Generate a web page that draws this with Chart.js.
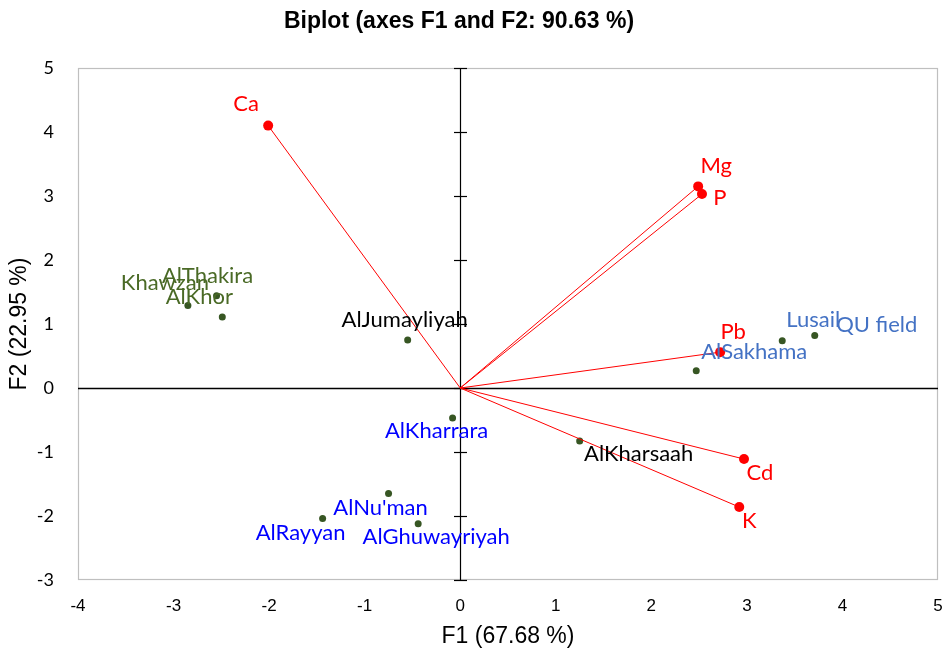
<!DOCTYPE html>
<html>
<head>
<meta charset="utf-8">
<script src="https://cdn.jsdelivr.net/npm/chart.js@4.4.0/dist/chart.umd.min.js"></script>
<style>
html,body{margin:0;padding:0;background:#fff;}
#wrap{width:943px;height:656px;position:relative;}
</style>
</head>
<body>
<div id="wrap"><canvas id="c"></canvas></div>
<script>
// ---- Data ----
const obsNames = ["Khawzan","AlThakira","AlKhor","AlJumayliyah","AlSakhama","Lusail","QU field","AlKharrara","AlKharsaah","AlNu'man","AlRayyan","AlGhuwayriyah"];
const obsF1 = [-2.85,-2.55,-2.49,-0.55,2.47,3.37,3.71,-0.08,1.25,-0.75,-1.44,-0.44];
const obsF2 = [1.29,1.44,1.11,0.75,0.27,0.74,0.82,-0.47,-0.83,-1.65,-2.04,-2.12];

const varNames = ["Ca","Mg","P","Pb","Cd","K"];
const varF1 = [-2.01,2.49,2.53,2.72,2.97,2.92];
const varF2 = [4.10,3.15,3.03,0.56,-1.11,-1.86];

const xTicks = [-4,-3,-2,-1,0,1,2,3,4,5];
const yTicks = [-3,-2,-1,0,1,2,3,4,5];

const titleText = "Biplot (axes F1 and F2: 90.63 %)";
const xTitle = "F1 (67.68 %)";
const yTitle = "F2 (22.95 %)";

// ---- Styles ----
const GREEN = "#4A6A26", STEEL = "#4472C4", BLUE = "#0000FF", BLACK = "#000000", RED = "#FF0000";
const obsStyle = {
  "Khawzan":[GREEN,-23,-23], "AlThakira":[GREEN,-9,-20], "AlKhor":[GREEN,-23,-20],
  "AlJumayliyah":[BLACK,-3,-20], "AlSakhama":[STEEL,58,-19], "Lusail":[STEEL,31,-21],
  "QU field":[STEEL,62,-11], "AlKharrara":[BLUE,-16,13], "AlKharsaah":[BLACK,59,13],
  "AlNu'man":[BLUE,-8,14], "AlRayyan":[BLUE,-22,14], "AlGhuwayriyah":[BLUE,18,13]
};
const varStyle = {"Ca":[-22,-22],"Mg":[18,-20],"P":[18,4],"Pb":[13,-20],"Cd":[16,14],"K":[10,14]};
const LABEL_FONT = "22px Lato, 'Open Sans', sans-serif";

const datasets = [];
varNames.forEach((n,i)=>{
  datasets.push({
    label:n, type:'scatter', showLine:true,
    data:[{x:0,y:0},{x:varF1[i],y:varF2[i]}],
    borderColor:RED, borderWidth:1, pointRadius:[0,5], pointHoverRadius:[0,5],
    pointBackgroundColor:RED, pointBorderColor:RED, pointBorderWidth:0
  });
});
datasets.push({
  label:'obs', type:'scatter',
  data: obsNames.map((n,i)=>({x:obsF1[i], y:obsF2[i]})),
  pointRadius:3.5, pointBackgroundColor:"#375623", pointBorderColor:"#375623", pointBorderWidth:0
});

const framePlugin = {
  id:'frame',
  beforeDatasetsDraw(chart){
    const {ctx, chartArea:a, scales:{x,y}} = chart;
    ctx.save();
    ctx.strokeStyle = "#BFBFBF"; ctx.lineWidth = 1.2;
    ctx.strokeRect(a.left+0.5, a.top+0.5, a.right-a.left-1, a.bottom-a.top-1);
    const x0 = Math.round(x.getPixelForValue(0))+0.5;
    const y0 = Math.round(y.getPixelForValue(0))+0.5;
    ctx.strokeStyle = "#000"; ctx.lineWidth = 1.5;
    ctx.beginPath(); ctx.moveTo(a.left, y0); ctx.lineTo(a.right, y0); ctx.stroke();
    ctx.lineWidth = 1.2;
    ctx.beginPath(); ctx.moveTo(x0, a.top); ctx.lineTo(x0, a.bottom); ctx.stroke();
    yTicks.forEach(v=>{
      const py = Math.round(y.getPixelForValue(v))+0.5;
      ctx.beginPath(); ctx.moveTo(x0-6.5, py); ctx.lineTo(x0+6.5, py); ctx.stroke();
    });
    ctx.restore();
  },
  afterDatasetsDraw(chart){
    const {ctx} = chart;
    ctx.save();
    ctx.font = LABEL_FONT; ctx.textAlign='center'; ctx.textBaseline='middle';
    const om = chart.getDatasetMeta(varNames.length);
    obsNames.forEach((n,i)=>{
      const el = om.data[i]; const s = obsStyle[n];
      ctx.fillStyle = s[0];
      ctx.fillText(n, el.x + s[1], el.y + s[2]);
    });
    ctx.fillStyle = RED;
    varNames.forEach((n,i)=>{
      const el = chart.getDatasetMeta(i).data[1]; const s = varStyle[n];
      ctx.fillText(n, el.x + s[0], el.y + s[1]);
    });
    // titles
    ctx.fillStyle = "#000";
    ctx.font = "bold 23px 'Liberation Sans', Arial, sans-serif";
    ctx.fillText(titleText, 459, 22);
    const a = chart.chartArea;
    ctx.font = "23px 'Liberation Sans', Arial, sans-serif";
    ctx.fillText(xTitle, (a.left+a.right)/2, 637);
    ctx.save();
    ctx.translate(20, (a.top+a.bottom)/2);
    ctx.rotate(-Math.PI/2);
    ctx.font = "23px 'Liberation Sans', Arial, sans-serif";
    ctx.fillText(yTitle, 0, 0);
    ctx.restore();
    ctx.restore();
  }
};

new Chart(document.getElementById('c'), {
  type:'scatter',
  data:{datasets},
  options:{
    responsive:true, maintainAspectRatio:false, animation:false,
    layout:{padding:{top:68,right:5,left:0,bottom:0}},
    plugins:{legend:{display:false}, tooltip:{enabled:false}, title:{display:false}},
    scales:{
      x:{type:'linear', min:-4, max:5,
        afterBuildTicks:s=>{s.ticks = xTicks.map(v=>({value:v}));},
        afterFit:s=>{s.height=76; s.paddingRight=0; s.paddingLeft=0;},
        ticks:{color:'#000', padding:16, font:{family:"'Liberation Sans',Arial", size:17}},
        grid:{display:false, drawTicks:false}, border:{display:false}},
      y:{type:'linear', min:-3, max:5,
        afterBuildTicks:s=>{s.ticks = yTicks.map(v=>({value:v}));},
        afterFit:s=>{s.width=78;},
        ticks:{color:'#000', padding:24, font:{family:"Lato,'Open Sans',sans-serif", size:18}},
        grid:{display:false, drawTicks:false}, border:{display:false}}
    }
  },
  plugins:[framePlugin]
});
</script>
</body>
</html>
